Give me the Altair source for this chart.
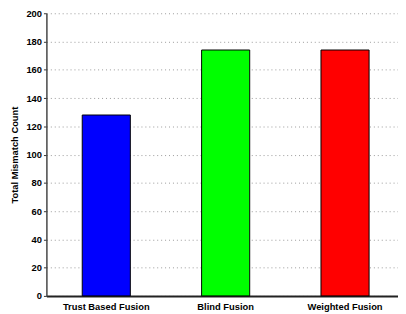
import altair as alt
import pandas as pd

categories = ["Trust Based Fusion", "Blind Fusion", "Weighted Fusion"]
values = [128, 174, 174]
colors = ["#0000ff", "#00ff00", "#ff0000"]
y_ticks = [0, 20, 40, 60, 80, 100, 120, 140, 160, 180, 200]

df = pd.DataFrame({"category": categories, "value": values})

FONT = "Liberation Sans"

chart = alt.Chart(df).mark_bar(stroke="#000000", strokeWidth=1).encode(
    x=alt.X(
        "category:N",
        sort=categories,
        scale=alt.Scale(range=[0, 364], paddingInner=0.597, paddingOuter=0.3),
        axis=alt.Axis(
            title=None, labelAngle=0, ticks=False, labelPadding=6,
            domainColor="#222222", domainWidth=2, grid=False,
            labelFont=FONT, labelFontWeight="bold", labelFontSize=9.5, labelColor="#000000",
        ),
    ),
    y=alt.Y(
        "value:Q",
        scale=alt.Scale(domain=[0, 200], nice=False),
        axis=alt.Axis(
            title="Total Mismatch Count", values=y_ticks, tickSize=3, tickColor="#333333",
            tickWidth=1, labelPadding=2, domainColor="#444444", domainWidth=1.5,
            grid=True, gridColor="#999999", gridDash=[1, 3], gridWidth=1,
            labelFont=FONT, labelFontWeight="bold", labelFontSize=9.5, labelColor="#000000",
            titleFont=FONT, titleFontWeight="bold", titleFontSize=9.5, titleColor="#000000",
            titlePadding=6,
        ),
    ),
    color=alt.Color("category:N", sort=categories,
                    scale=alt.Scale(domain=categories, range=colors), legend=None),
).properties(
    width=357, height=287,
    autosize=alt.AutoSizeParams(type="none"),
    padding={"left": 39, "top": 3, "right": 0, "bottom": 14},
).configure_view(stroke=None)

chart.save("out.html", embed_options={"renderer": "svg", "actions": False})
